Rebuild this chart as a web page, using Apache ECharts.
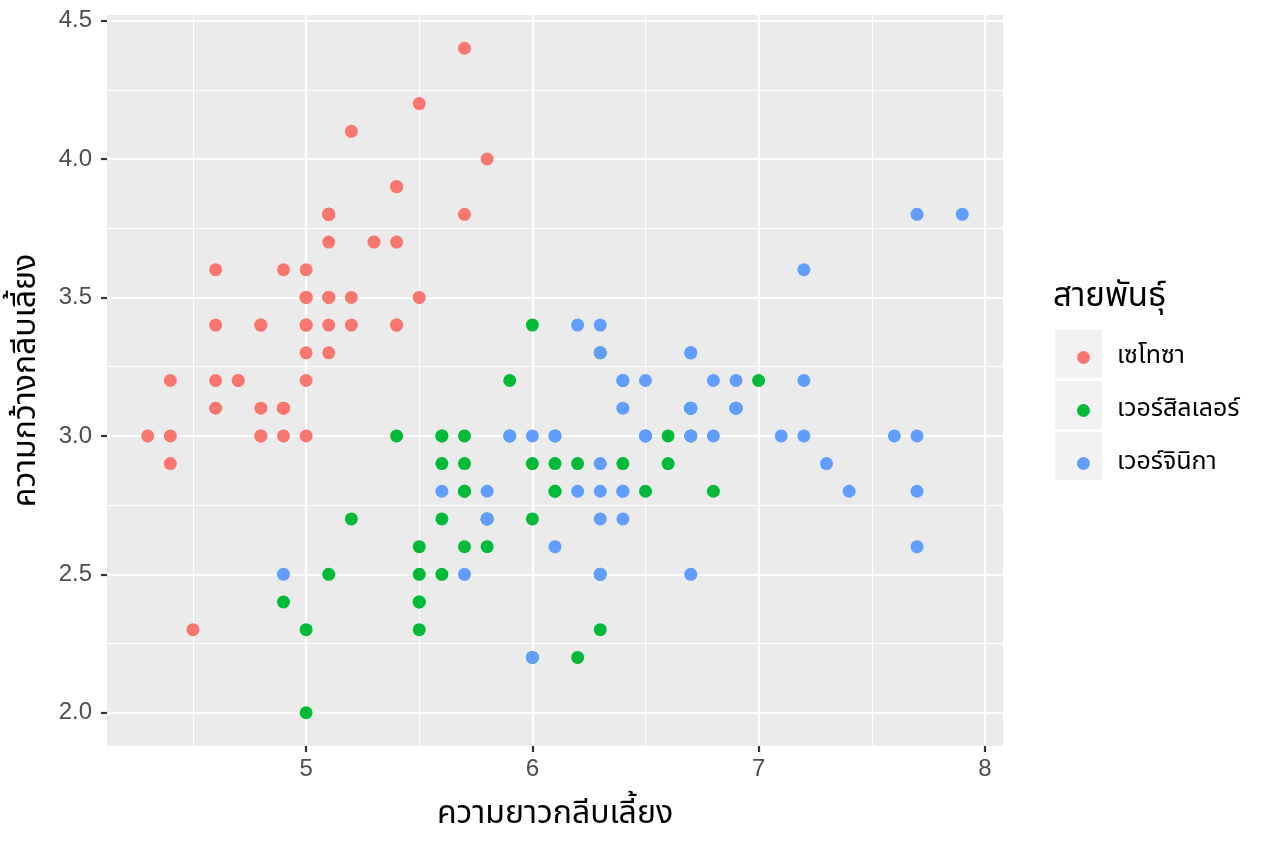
<!DOCTYPE html>
<html>
<head>
<meta charset="utf-8">
<script src="https://cdn.jsdelivr.net/npm/echarts@6/dist/echarts.min.js"></script>
<style>html,body{margin:0;padding:0;background:#fff}#c{width:1264px;height:843px}</style>
</head>
<body>
<div id="c"></div>
<script>
const speciesNames = ['เซโทซา', 'เวอร์สิลเลอร์', 'เวอร์จินิกา'];
const colors = ['#F8766D', '#00BA38', '#619CFF'];
const xTitle = 'ความยาวกลีบเลี้ยง';
const yTitle = 'ความกว้างกลีบเลี้ยง';
const legendTitle = 'สายพันธุ์';

const xMajor = [5, 6, 7, 8];
const xMinor = [4.5, 5.5, 6.5, 7.5];
const yMajor = [2.0, 2.5, 3.0, 3.5, 4.0, 4.5];
const yMinor = [2.25, 2.75, 3.25, 3.75, 4.25];

const setosaLen = [5.1,4.9,4.7,4.6,5.0,5.4,4.6,5.0,4.4,4.9,5.4,4.8,4.8,4.3,5.8,5.7,5.4,5.1,5.7,5.1,5.4,5.1,4.6,5.1,4.8,5.0,5.0,5.2,5.2,4.7,4.8,5.4,5.2,5.5,4.9,5.0,5.5,4.9,4.4,5.1,5.0,4.5,4.4,5.0,5.1,4.8,5.1,4.6,5.3,5.0];
const setosaWid = [3.5,3.0,3.2,3.1,3.6,3.9,3.4,3.4,2.9,3.1,3.7,3.4,3.0,3.0,4.0,4.4,3.9,3.5,3.8,3.8,3.4,3.7,3.6,3.3,3.4,3.0,3.4,3.5,3.4,3.2,3.1,3.4,4.1,4.2,3.1,3.2,3.5,3.6,3.0,3.4,3.5,2.3,3.2,3.5,3.8,3.0,3.8,3.2,3.7,3.3];
const versiLen = [7.0,6.4,6.9,5.5,6.5,5.7,6.3,4.9,6.6,5.2,5.0,5.9,6.0,6.1,5.6,6.7,5.6,5.8,6.2,5.6,5.9,6.1,6.3,6.1,6.4,6.6,6.8,6.7,6.0,5.7,5.5,5.5,5.8,6.0,5.4,6.0,6.7,6.3,5.6,5.5,5.5,6.1,5.8,5.0,5.6,5.7,5.7,6.2,5.1,5.7];
const versiWid = [3.2,3.2,3.1,2.3,2.8,2.8,3.3,2.4,2.9,2.7,2.0,3.0,2.2,2.9,2.9,3.1,3.0,2.7,2.2,2.5,3.2,2.8,2.5,2.8,2.9,3.0,2.8,3.0,2.9,2.6,2.4,2.4,2.7,2.7,3.0,3.4,3.1,2.3,3.0,2.5,2.6,3.0,2.6,2.3,2.7,3.0,2.9,2.9,2.5,2.8];
const virgLen = [6.3,5.8,7.1,6.3,6.5,7.6,4.9,7.3,6.7,7.2,6.5,6.4,6.8,5.7,5.8,6.4,6.5,7.7,7.7,6.0,6.9,5.6,7.7,6.3,6.7,7.2,6.2,6.1,6.4,7.2,7.4,7.9,6.4,6.3,6.1,7.7,6.3,6.4,6.0,6.9,6.7,6.9,5.8,6.8,6.7,6.7,6.3,6.5,6.2,5.9];
const virgWid = [3.3,2.7,3.0,2.9,3.0,3.0,2.5,2.9,2.5,3.6,3.2,2.7,3.0,2.5,2.8,3.2,3.0,3.8,2.6,2.2,3.2,2.8,2.8,2.7,3.3,3.2,2.8,3.0,2.8,3.0,2.8,3.8,2.8,2.8,2.6,3.0,3.4,3.1,3.0,3.1,3.1,3.1,2.7,3.2,3.3,3.0,2.5,3.0,3.4,3.0];

const lens = [setosaLen, versiLen, virgLen];
const wids = [setosaWid, versiWid, virgWid];

const FONT = '"Noto Sans Thai","Noto Sans","DejaVu Sans",sans-serif';
const LEFT = 107, RIGHT = 1003, TOP = 15, BOTTOM = 746;

const chart = echarts.init(document.getElementById('c'), null, {renderer: 'canvas'});

function gridLines(vals, axis, width) {
  return vals.map(v => ({[axis]: v, lineStyle: {color: '#FFFFFF', width: width, type: 'solid'}}));
}

const series = [{
  type: 'scatter',
  data: [],
  z: 1,
  silent: true,
  markLine: {
    silent: true,
    z: 1,
    symbol: 'none',
    animation: false,
    label: {show: false},
    data: [].concat(
      gridLines(xMinor, 'xAxis', 1),
      gridLines(yMinor, 'yAxis', 1),
      gridLines(xMajor, 'xAxis', 2.2),
      gridLines(yMajor, 'yAxis', 2.2)
    )
  }
}];
speciesNames.forEach((n, i) => {
  series.push({
    type: 'scatter',
    name: n,
    z: 6,
    symbol: 'circle',
    symbolSize: 13,
    itemStyle: {color: colors[i], opacity: 1},
    data: lens[i].map((x, j) => [x, wids[i][j]])
  });
});

const axisCommon = {
  type: 'value',
  splitLine: {show: false},
  axisLine: {show: false},
  axisTick: {show: true, length: 6, lineStyle: {color: '#333333', width: 2.2}},
  axisLabel: {color: '#4D4D4D', fontSize: 24, fontFamily: '"Liberation Sans", Arial, sans-serif'},
  nameLocation: 'middle',
  nameTextStyle: {color: '#000000', fontSize: 32, fontFamily: FONT}
};

chart.setOption({
  animation: false,
  backgroundColor: '#FFFFFF',
  grid: {left: LEFT, right: 1264 - RIGHT, top: TOP, bottom: 843 - BOTTOM, show: true, backgroundColor: '#EBEBEB', borderWidth: 0, containLabel: false, outerBoundsMode: 'none'},
  xAxis: Object.assign({}, axisCommon, {
    min: 4.12, max: 8.08,
    name: xTitle, nameGap: 55,
    axisTick: Object.assign({}, axisCommon.axisTick, {customValues: xMajor}),
    axisLabel: Object.assign({}, axisCommon.axisLabel, {customValues: xMajor, margin: 11, formatter: v => String(v)})
  }),
  yAxis: Object.assign({}, axisCommon, {
    min: 1.88, max: 4.52,
    name: yTitle, nameGap: 62, nameRotate: 90,
    axisTick: Object.assign({}, axisCommon.axisTick, {customValues: yMajor}),
    axisLabel: Object.assign({}, axisCommon.axisLabel, {customValues: yMajor, margin: 15, formatter: v => Number(v).toFixed(1)})
  }),
  legend: {
    orient: 'vertical',
    left: 1072, top: 340,
    itemWidth: 13, itemHeight: 13, itemGap: 28,
    icon: 'circle',
    data: speciesNames,
    textStyle: {color: '#000000', fontSize: 25, fontFamily: FONT, padding: [0, 0, 0, 22]}
  },
  graphic: [
    {type: 'text', left: 1053, top: 283, style: {text: legendTitle, fontSize: 33, fontFamily: FONT, fill: '#000000'}},
    {type: 'rect', shape: {x: 1055, y: 330, width: 47, height: 48}, style: {fill: '#F2F2F2'}, z: -1},
    {type: 'rect', shape: {x: 1055, y: 381, width: 47, height: 48}, style: {fill: '#F2F2F2'}, z: -1},
    {type: 'rect', shape: {x: 1055, y: 432, width: 47, height: 48}, style: {fill: '#F2F2F2'}, z: -1}
  ],
  series: series
});
</script>
</body>
</html>
